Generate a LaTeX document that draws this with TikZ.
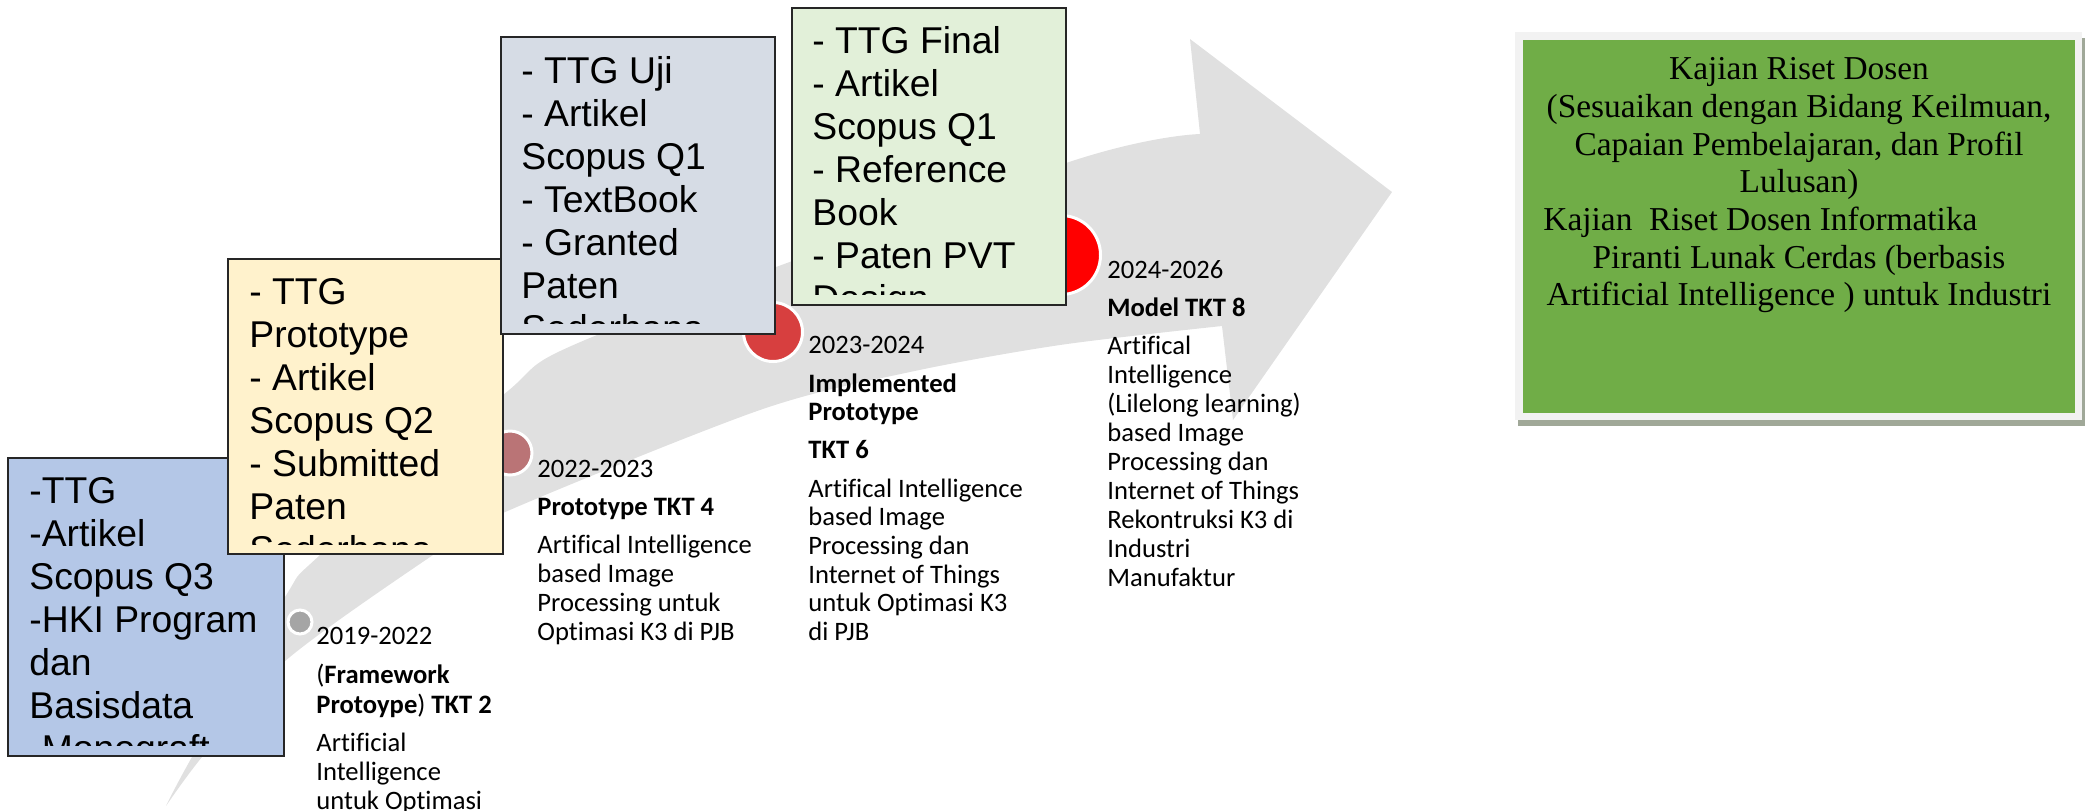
\documentclass[tikz,border=0pt]{standalone}
\usepackage{fontspec}
\setmainfont{Carlito}[Ligatures=NoCommon]
\newfontfamily\arialf{Liberation Sans}
\newfontfamily\cambf{Liberation Serif}[Ligatures=NoCommon]
\definecolor{bandgray}{HTML}{E0E0E0}
\definecolor{boxblue}{HTML}{B4C7E7}
\definecolor{boxyellow}{HTML}{FFF2CC}
\definecolor{boxgrayblue}{HTML}{D6DCE5}
\definecolor{boxgreen}{HTML}{E2F0D9}
\definecolor{mkgray}{HTML}{A5A5A5}
\definecolor{mkrose}{HTML}{BA7476}
\definecolor{mkred}{HTML}{D73F3F}
\definecolor{mkbright}{HTML}{FF0000}
\definecolor{rgreen}{HTML}{70AD47}
\definecolor{rframe}{HTML}{F2F2F2}
\definecolor{rshadow}{HTML}{A0A898}
\tikzset{
  bigbox/.style={draw=black!85, line width=1pt},
  bigtxt/.style={anchor=base west, inner sep=0pt, font=\arialf\fontsize{18.65}{21.5}\selectfont},
  lbl/.style={anchor=base west, inner sep=0pt, font=\fontsize{13.3}{14.5}\selectfont},
  marker/.style={draw=white, line width=1.5pt},
  rtxt/.style={anchor=base, inner sep=0pt, font=\cambf\fontsize{16.7}{18}\selectfont},
}
\begin{document}
\begin{tikzpicture}[x=0.5pt, y=-0.5pt]
\useasboundingbox (0,0) rectangle (2093,810);
% big curved arrow
\fill[bandgray] plot[smooth] coordinates {(166,806) (192,757) (285,597) (320,555) (503,395) (597,335) (1066,163) (1200,134)}
  -- (1190,39) -- (1392,192) -- (1233,420) -- (1222,326)
  -- plot[smooth] coordinates {(1222,326) (1060,345) (910,372) (760,410) (503,513) (433,555) (284,662) (202,757) (166,806)} -- cycle;
% markers
\filldraw[fill=mkgray, marker] (300,622) circle (12);
\filldraw[fill=mkrose, marker] (510,453) circle (22);
\filldraw[fill=mkred, marker] (773,332) circle (29.5);
\filldraw[fill=mkbright, marker] (1061,255) circle (39.5);
% box 1
\draw[bigbox, fill=boxblue] (8,458) rectangle (284,756);
\begin{scope}
\clip (8,458) rectangle (284,745);
\foreach \t [count=\i from 0] in {-TTG, -Artikel, Scopus Q3, -HKI Program, dan, Basisdata, -Monograft}
  \node[bigtxt] (b1-\i) at (29,{503+43*\i}) {\t};
\end{scope}
% box 2
\draw[bigbox, fill=boxyellow] (228,259) rectangle (503,554);
\begin{scope}
\clip (228,259) rectangle (503,544);
\foreach \t [count=\i from 0] in {- TTG, Prototype, - Artikel, Scopus Q2, - Submitted, Paten, Sederhana}
  \node[bigtxt] (b2-\i) at (249,{304+43*\i}) {\t};
\end{scope}
% box 3
\draw[bigbox, fill=boxgrayblue] (501,37) rectangle (775,334);
\begin{scope}
\clip (501,37) rectangle (775,323);
\foreach \t [count=\i from 0] in {- TTG Uji, - Artikel, Scopus Q1, - TextBook, - Granted, Paten, Sederhana}
  \node[bigtxt] (b3-\i) at (521,{83+43*\i}) {\t};
\end{scope}
% box 4
\draw[bigbox, fill=boxgreen] (792,8) rectangle (1066,305);
\begin{scope}
\clip (792,8) rectangle (1066,294);
\foreach \t [count=\i from 0] in {- TTG Final, - Artikel, Scopus Q1, - Reference, Book, - Paten PVT, Design}
  \node[bigtxt] (b4-\i) at (812,{53+43*\i}) {\t};
\end{scope}
% labels group 1
\node[lbl] (l1a) at (316,644) {2019-2022};
\node[lbl] (l1b) at (316,683) {(\textbf{Framework}};
\node[lbl] (l1c) at (316,713) {\textbf{Protoype}) \textbf{TKT 2}};
\node[lbl] (l1d) at (316,751) {Artificial};
\node[lbl] (l1e) at (316,780) {Intelligence};
\node[lbl] (l1f) at (316,809) {untuk Optimasi};
% labels group 2
\node[lbl] (l2a) at (537,477) {2022-2023};
\node[lbl] (l2b) at (537,515) {\textbf{Prototype TKT 4}};
\node[lbl] (l2c) at (537,553) {Artifical Intelligence};
\node[lbl] (l2d) at (537,582) {based Image};
\node[lbl] (l2e) at (537,611) {Processing untuk};
\node[lbl] (l2f) at (537,640) {Optimasi K3 di PJB};
% labels group 3
\node[lbl] (l3a) at (808,353) {2023-2024};
\node[lbl] (l3b) at (808,392) {\textbf{Implemented}};
\node[lbl] (l3c) at (808,420) {\textbf{Prototype}};
\node[lbl] (l3d) at (808,458) {\textbf{TKT 6}};
\node[lbl] (l3e) at (808,497) {Artifical Intelligence};
\node[lbl] (l3f) at (808,525) {based Image};
\node[lbl] (l3g) at (808,554) {Processing dan};
\node[lbl] (l3h) at (808,583) {Internet of Things};
\node[lbl] (l3i) at (808,611) {untuk Optimasi K3};
\node[lbl] (l3j) at (808,640) {di PJB};
% labels group 4
\node[lbl] (l4a) at (1107,278) {2024-2026};
\node[lbl] (l4b) at (1107,316) {\textbf{Model TKT 8}};
\node[lbl] (l4c) at (1107,354) {Artifical};
\node[lbl] (l4d) at (1107,383) {Intelligence};
\node[lbl] (l4e) at (1107,412) {(Lilelong learning)};
\node[lbl] (l4f) at (1107,441) {based Image};
\node[lbl] (l4g) at (1107,470) {Processing dan};
\node[lbl] (l4h) at (1107,499) {Internet of Things};
\node[lbl] (l4i) at (1107,528) {Rekontruksi K3 di};
\node[lbl] (l4j) at (1107,557) {Industri};
\node[lbl] (l4k) at (1107,586) {Manufaktur};
% right box
\fill[rshadow] (1518,38) rectangle (2085,426);
\fill[rframe] (1515,32) rectangle (2082,420);
\fill[rgreen] (1523,40) rectangle (2075,413);
\node[rtxt] (r1) at (1799,79) {Kajian Riset Dosen};
\node[rtxt] (r2) at (1799,117) {(Sesuaikan dengan Bidang Keilmuan,};
\node[rtxt] (r3) at (1799,155) {Capaian Pembelajaran, dan Profil};
\node[rtxt] (r4) at (1799,192) {Lulusan)};
\node[rtxt, anchor=base west] (r5) at (1543,230) {Kajian\ \ Riset Dosen Informatika};
\node[rtxt] (r6) at (1799,268) {Piranti Lunak Cerdas (berbasis};
\node[rtxt] (r7) at (1799,305) {Artificial Intelligence ) untuk Industri};
\end{tikzpicture}
\end{document}
